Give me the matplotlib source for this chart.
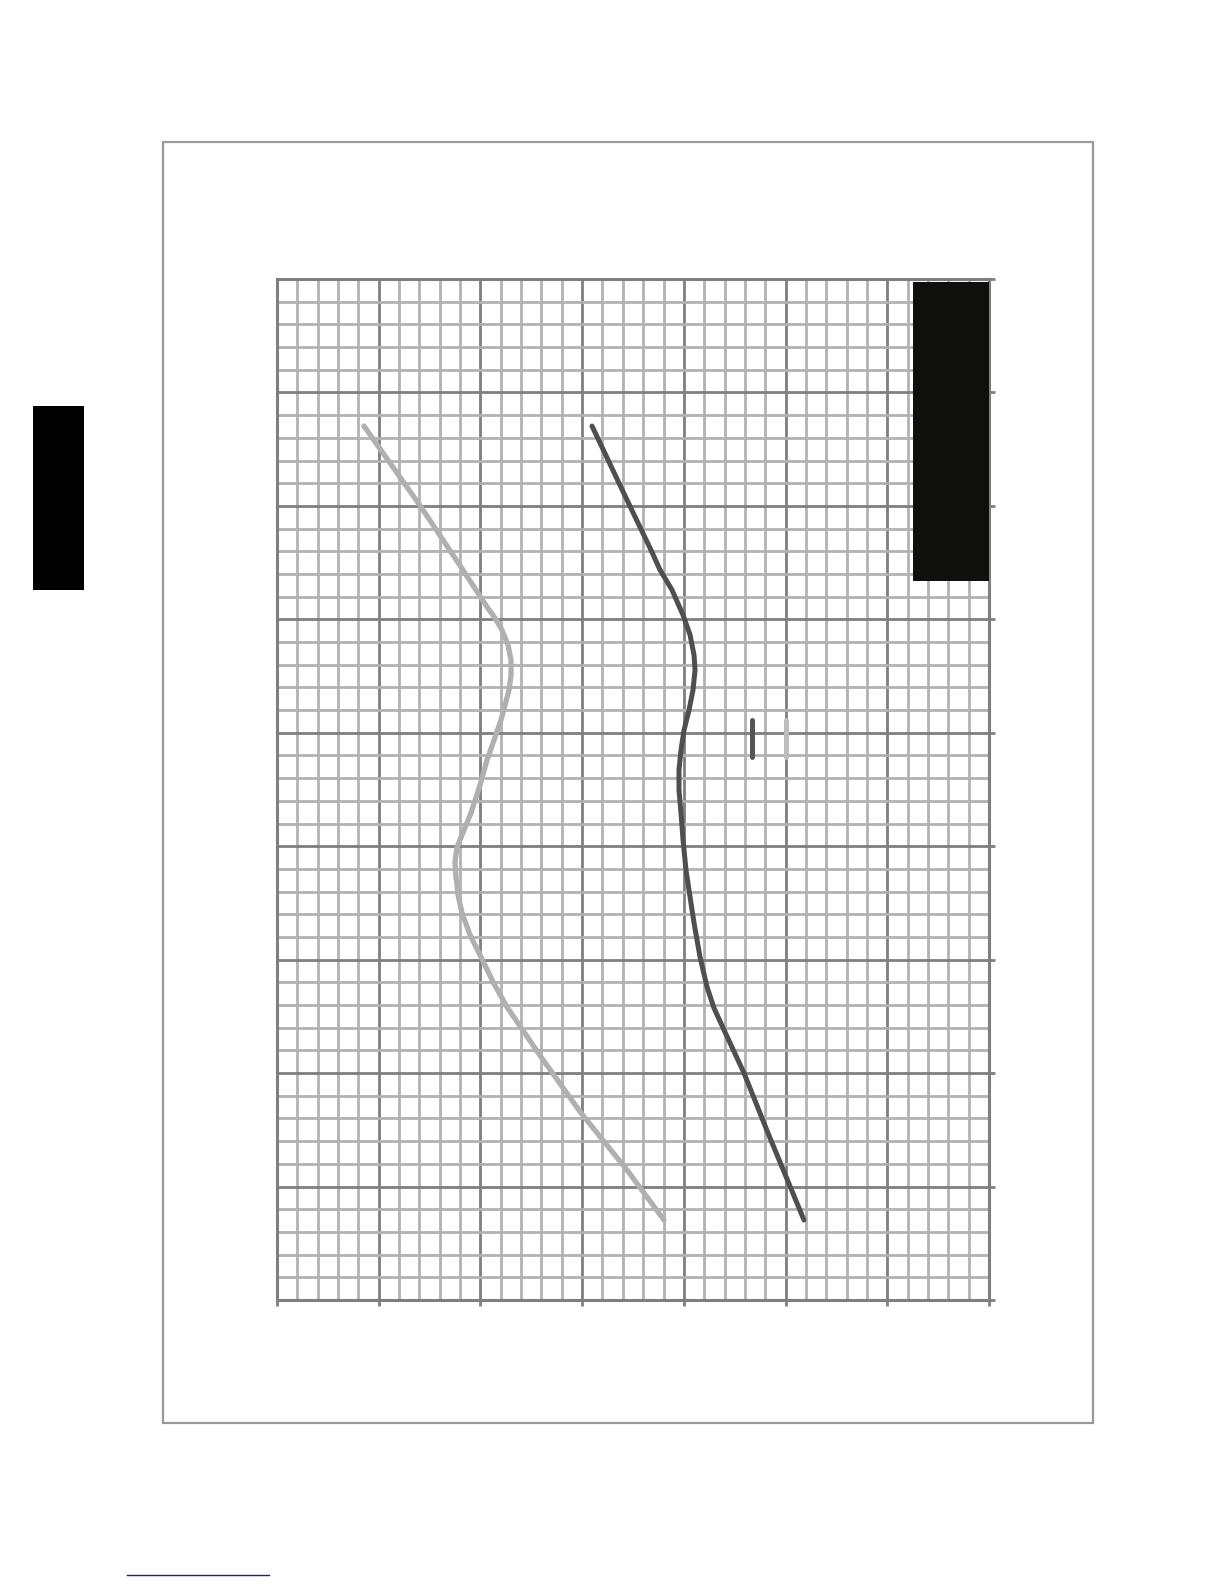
import matplotlib
matplotlib.use("Agg")
import matplotlib.pyplot as plt
from matplotlib.patches import Rectangle
from matplotlib.lines import Line2D

# ---- data (chart is printed rotated: position runs down the page, value across) ----
light_pos = [12.96, 14.46, 20.10, 25.39, 28.91, 29.88, 30.94, 32.26, 33.59, 34.91,
             36.23, 37.55, 38.88, 40.64, 42.40, 44.61, 47.07, 48.57, 50.07, 51.39,
             52.72, 54.30, 55.89, 57.83, 59.77, 61.97, 64.17, 68.58, 73.52, 78.54, 82.95]
light_val = [8.55, 9.73, 14.16, 18.09, 20.65, 21.43, 22.12, 22.71, 23.01, 23.01,
             22.81, 22.42, 22.02, 21.34, 20.65, 19.96, 19.07, 18.39, 17.70, 17.50,
             17.60, 17.80, 18.19, 18.98, 20.06, 21.24, 22.61, 25.96, 29.89, 34.41, 38.05]

dark_pos = [12.96, 19.48, 23.89, 25.65, 27.42, 29.62, 31.38, 33.15, 34.47, 36.23,
            37.99, 39.76, 41.52, 43.28, 45.05, 47.07, 49.45, 52.10, 54.48, 56.77,
            59.77, 62.41, 64.26, 66.20, 69.99, 75.28, 82.95]
dark_val = [30.97, 34.41, 36.77, 37.66, 38.84, 39.92, 40.61, 41.00, 41.10, 40.90,
            40.51, 40.02, 39.72, 39.52, 39.52, 39.72, 39.92, 40.21, 40.61, 41.00,
            41.59, 42.28, 42.96, 43.95, 45.91, 48.27, 51.81]

val_major = list(range(0, 71, 10))
val_minor = list(range(0, 71, 2))
pos_major = list(range(0, 91, 10))
pos_minor = list(range(0, 91, 2))

W, H = 1224, 1584
fig = plt.figure(figsize=(W / 100, H / 100), dpi=100)
fig.patch.set_facecolor("white")

def fx(px):
    return px / W

def fy(py):
    return 1 - py / H

# outer page frame
fig.add_artist(Rectangle((fx(163), fy(1423)), fx(1093) - fx(163), fy(142) - fy(1423),
                         transform=fig.transFigure, fill=False, edgecolor="#9a9a9a", lw=1.6))
# black side tab
fig.add_artist(Rectangle((fx(33), fy(590)), fx(84) - fx(33), fy(406) - fy(590),
                         transform=fig.transFigure, facecolor="black", edgecolor="none"))
# blue underline at bottom
fig.add_artist(Line2D([fx(127), fx(269)], [fy(1575), fy(1575)], transform=fig.transFigure,
                      color="#1c1c9c", lw=1.0))

ax = fig.add_axes([fx(277), fy(1300), fx(989) - fx(277), fy(279) - fy(1300)])
ax.set_xlim(0, 70)
ax.set_ylim(90, 0)
ax.set_xticks(val_major)
ax.set_xticks(val_minor, minor=True)
ax.set_yticks(pos_major)
ax.set_yticks(pos_minor, minor=True)
ax.set_xticklabels([])
ax.set_yticklabels([])
ax.yaxis.tick_right()
ax.tick_params(which="major", direction="out", length=4, width=2, color="#808080")
ax.tick_params(which="minor", length=0)
ax.grid(which="minor", color="#b2b2b2", lw=2.0, zorder=0)
ax.grid(which="major", color="#7f7f7f", lw=2.0, zorder=0)
ax.set_axisbelow(True)
for s in ax.spines.values():
    s.set_color("#7f7f7f")
    s.set_linewidth(2.2)

ax.plot(light_val, light_pos, color="#b0b0b0", lw=3.8, solid_capstyle="round",
        solid_joinstyle="round", zorder=3)
ax.plot(dark_val, dark_pos, color="#4f4f4f", lw=3.6, solid_capstyle="round",
        solid_joinstyle="round", zorder=3)

# legend keys (labels not printed)
ax.plot([0.667, 0.667], [0.568, 0.532], transform=ax.transAxes, color="#555555", lw=3.6,
        solid_capstyle="round", zorder=4)
ax.plot([0.715, 0.715], [0.568, 0.532], transform=ax.transAxes, color="#bdbdbd", lw=3.6,
        solid_capstyle="round", zorder=4)

# black label block in top-right corner
fig.add_artist(Rectangle((fx(913), fy(581)), fx(989) - fx(913), fy(282) - fy(581),
                         transform=fig.transFigure, facecolor="#0f0f0d", edgecolor="none",
                         zorder=10))

fig.savefig("out.png", dpi=100, facecolor="white")
